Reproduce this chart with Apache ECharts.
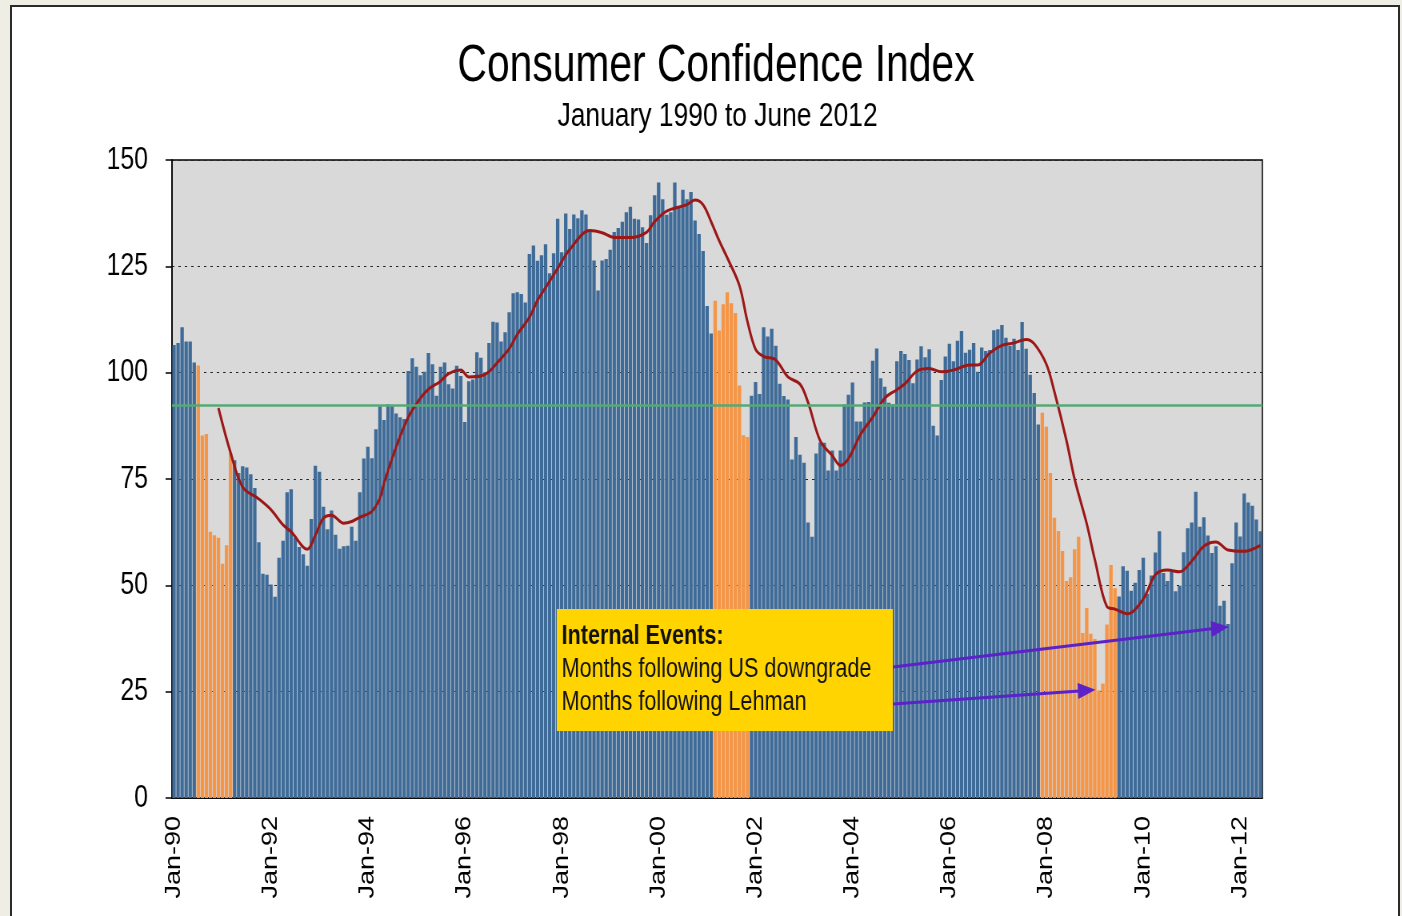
<!DOCTYPE html>
<html>
<head>
<meta charset="utf-8">
<title>Consumer Confidence Index</title>
<script src="https://cdn.jsdelivr.net/npm/echarts@6/dist/echarts.min.js"></script>
<style>
  html, body { margin: 0; padding: 0; width: 1402px; height: 916px; overflow: hidden; background: #efeee5; }
  #frame { position: absolute; left: 10px; top: 5px; width: 1390px; height: 920px; box-sizing: border-box;
           background: #fff; border-left: 2px solid #2b2b2b; border-top: 2px solid #2b2b2b; border-right: 2px solid #2b2b2b; }
  /* the source picture is squeezed horizontally, so the chart is drawn wider and scaled back */
  #chart { position: absolute; left: 0; top: 0; width: 1752px; height: 916px; transform: scaleX(0.8); transform-origin: 0 0; }
</style>
</head>
<body>
<div id="frame"></div>
<div id="chart"></div>
<script>
var monthNames = ['Jan','Feb','Mar','Apr','May','Jun','Jul','Aug','Sep','Oct','Nov','Dec'];
var startYear = 1990;

// monthly index values, one row per year
var cci1990s = [
  106.5, 107.0, 110.7, 107.3, 107.3, 102.4, 101.7, 85.2, 85.6, 62.6, 61.8, 61.2,
  55.1, 59.4, 81.1, 79.4, 76.4, 78.0, 77.7, 76.1, 72.9, 60.1, 52.7, 52.5,
  50.2, 47.3, 56.5, 60.5, 71.9, 72.6, 61.2, 59.0, 57.3, 54.6, 65.6, 78.1,
  76.7, 68.5, 63.2, 67.6, 61.9, 58.6, 59.2, 59.3, 63.8, 60.5, 71.9, 79.8,
  82.6, 79.9, 86.7, 92.1, 88.9, 92.5, 92.1, 90.4, 89.5, 89.1, 100.4, 103.4,
  101.4, 99.4, 100.2, 104.6, 102.0, 94.6, 101.4, 102.4, 97.3, 96.3, 101.6, 99.2,
  88.4, 98.0, 98.4, 104.8, 103.5, 100.1, 107.0, 112.0, 111.8, 107.3, 109.5, 114.2,
  118.7, 118.9, 118.5, 116.5, 127.9, 129.9, 126.3, 127.6, 130.2, 123.4, 128.1, 136.2,
  128.3, 137.4, 133.8, 137.2, 136.3, 138.2, 137.2, 133.1, 126.4, 119.3, 126.4, 126.7,
  128.9, 133.1, 134.0, 135.5, 137.7, 139.0, 136.2, 136.0, 134.2, 130.5, 137.0, 141.7
];
var cci2000s = [
  144.7, 140.8, 137.1, 137.7, 144.7, 139.2, 143.0, 140.8, 142.5, 135.8, 132.6, 128.6,
  115.7, 109.2, 116.9, 109.9, 116.1, 118.9, 116.3, 114.0, 97.0, 85.3, 84.9, 94.6,
  97.8, 95.0, 110.7, 108.5, 110.3, 106.3, 97.4, 94.5, 93.7, 79.6, 84.9, 80.7,
  78.8, 64.8, 61.4, 81.0, 83.6, 83.5, 77.0, 81.7, 77.0, 81.7, 92.5, 94.8,
  97.7, 88.5, 88.5, 93.0, 93.1, 102.8, 105.7, 98.7, 96.7, 92.9, 92.6, 102.7,
  105.1, 104.4, 103.0, 97.5, 103.1, 106.2, 103.6, 105.5, 87.5, 85.2, 98.3, 103.8,
  106.8, 102.7, 107.5, 109.8, 104.7, 105.4, 107.0, 100.2, 105.9, 105.1, 105.3, 110.0,
  110.2, 111.2, 108.2, 106.3, 108.0, 105.3, 111.9, 105.6, 99.5, 95.2, 87.8, 90.6,
  87.3, 76.4, 65.9, 62.8, 58.1, 51.0, 51.9, 58.5, 61.4, 38.8, 44.7, 38.6,
  37.4, 25.3, 26.9, 40.8, 54.8, 49.3, 47.4, 54.5, 53.4, 48.7, 50.6, 53.6
];
var cci2010s = [
  56.5, 48.0, 52.3, 57.7, 62.7, 52.9, 51.0, 53.2, 48.6, 49.9, 57.8, 63.4,
  64.8, 72.0, 63.8, 66.0, 61.7, 57.6, 59.2, 45.2, 46.4, 40.9, 55.2, 64.8,
  61.5, 71.6, 69.5, 68.7, 65.5, 62.7
];

// 12-month moving average
var maMonths = ['Dec-90','Mar-91','Jun-91','Oct-91','Jan-92','Apr-92','Jun-92','Oct-92','Dec-92','Feb-93',
  'Apr-93','Jul-93','Sep-93','Nov-93','Feb-94','Apr-94','May-94','Aug-94','Nov-94','Feb-95',
  'Apr-95','Jul-95','Sep-95','Dec-95','Feb-96','May-96','Jul-96','Sep-96','Dec-96','Feb-97',
  'May-97','Jul-97','Sep-97','Dec-97','Mar-98','Aug-98','Nov-98','Feb-99','Jun-99','Oct-99',
  'Dec-99','Mar-00','Aug-00','Oct-00','Dec-00','Feb-01','Apr-01','Jun-01','Sep-01','Nov-01',
  'Jan-02','Mar-02','Jun-02','Sep-02','Dec-02','Feb-03','May-03','Aug-03','Oct-03','Dec-03',
  'Mar-04','Jun-04','Sep-04','Dec-04','Feb-05','May-05','Aug-05','Nov-05','Feb-06','Jun-06',
  'Aug-06','Nov-06','Feb-07','May-07','Aug-07','Oct-07','Jan-08','Mar-08','Jun-08','Aug-08',
  'Nov-08','Jan-09','Apr-09','Jun-09','Sep-09','Jan-10','Apr-10','Jul-10','Oct-10','Jan-11',
  'Apr-11','Jul-11','Oct-11','Feb-12','Jun-12'];
var maValues = [91.7, 81.2, 73.1, 70.3, 67.8, 64.2, 62.6, 58.5, 61.8, 65.8,
  66.5, 64.6, 65.0, 66.0, 67.4, 70.5, 74.0, 82.5, 89.5, 94.0,
  96.1, 98.0, 99.8, 100.6, 99.0, 99.2, 100.2, 102.3, 105.6, 109.0,
  113.0, 117.0, 120.0, 124.5, 129.0, 133.4, 132.9, 131.8, 131.8, 133.0,
  135.5, 138.0, 139.5, 140.6, 139.5, 135.5, 131.0, 127.0, 120.5, 112.0,
  105.5, 103.8, 103.0, 99.0, 97.3, 93.0, 84.0, 80.5, 78.2, 79.8,
  85.5, 89.5, 94.0, 96.0, 97.4, 100.4, 101.0, 100.2, 100.6, 101.8,
  101.8, 104.6, 106.4, 107.0, 107.8, 106.8, 102.0, 95.5, 84.0, 75.0,
  64.5, 56.1, 45.0, 44.4, 43.3, 46.8, 52.5, 53.6, 53.2, 55.7,
  59.2, 60.2, 58.3, 58.0, 59.4];

// recessions (orange bars)
var recessionStart = ['Jul-90', 'Mar-01', 'Dec-07'];
var recessionEnd = ['Mar-91', 'Nov-01', 'Jun-09'];

var longRunAverage = 92.4;

var cciValues = cci1990s.concat(cci2000s, cci2010s);
var categories = [];
for (var i = 0; i < cciValues.length; i++) {
    var yy = (startYear + Math.floor(i / 12)) % 100;
    categories.push(monthNames[i % 12] + '-' + (yy < 10 ? '0' + yy : '' + yy));
}

function inRecession(idx) {
    for (var r = 0; r < recessionStart.length; r++) {
        if (idx >= categories.indexOf(recessionStart[r]) && idx <= categories.indexOf(recessionEnd[r])) return true;
    }
    return false;
}

var barData = cciValues.map(function (v, idx) {
    return { value: v, itemStyle: { color: inRecession(idx) ? '#f59545' : '#3f6b98' } };
});
var maData = maMonths.map(function (m, idx) { return [m, maValues[idx]]; });

var font = "'Liberation Sans', Arial, sans-serif";
var everyTwoYears = function (index) { return index % 24 === 0; };

var myChart = echarts.init(document.getElementById('chart'));
var option = {
    animation: false,
    title: [
        { text: 'Consumer Confidence Index', left: 890, top: 36, textAlign: 'center',
          textStyle: { fontFamily: font, fontSize: 51, fontWeight: 'normal', color: '#000' } },
        { text: 'January 1990 to June 2012', left: 892, top: 95, textAlign: 'center',
          textStyle: { fontFamily: font, fontSize: 33, fontWeight: 'normal', color: '#000' } }
    ],
    grid: {
        left: 215, right: 174, top: 160, bottom: 118,
        show: true, backgroundColor: '#d9d9d9', borderColor: '#000', borderWidth: 1.5
    },
    xAxis: {
        type: 'category',
        data: categories,
        boundaryGap: true,
        axisLine: { lineStyle: { color: '#000', width: 1.5 } },
        axisTick: { interval: everyTwoYears, length: 8, lineStyle: { color: '#000', width: 1.5 } },
        axisLabel: { interval: everyTwoYears, rotate: 90, margin: 18, color: '#000', fontFamily: font, fontSize: 27 },
        splitLine: { show: false }
    },
    yAxis: {
        type: 'value',
        min: 0, max: 150, interval: 25,
        axisLine: { show: true, lineStyle: { color: '#000', width: 1.5 } },
        axisTick: { show: true, length: 8, lineStyle: { color: '#000', width: 1.5 } },
        axisLabel: { margin: 30, color: '#000', fontFamily: font, fontSize: 31 },
        splitLine: { show: true, lineStyle: { color: '#222', width: 1, type: [3, 5] } }
    },
    series: [
        {
            name: 'Consumer Confidence',
            type: 'bar',
            data: barData,
            barCategoryGap: '15%',
            z: 2,
            markLine: {
                silent: true,
                symbol: ['none', 'triangle'],
                symbolSize: [16, 22],
                label: { show: false },
                lineStyle: { color: '#5a22c8', width: 3, type: 'solid' },
                data: [
                    [{ coord: ['Nov-04', 30.8] }, { coord: ['Aug-11', 40.0] }],
                    [{ coord: ['Nov-04', 22.1] }, { coord: ['Nov-08', 25.3] }]
                ]
            }
        },
        {
            name: '12-month average',
            type: 'line',
            data: maData,
            smooth: 0.35,
            showSymbol: false,
            z: 4,
            lineStyle: { color: '#9c1717', width: 3 },
            markLine: {
                silent: true,
                symbol: 'none',
                label: { show: false },
                lineStyle: { color: '#55a877', width: 2.5, type: 'solid' },
                data: [{ yAxis: longRunAverage }]
            }
        }
    ],
    graphic: [
        { type: 'rect', z: 100, shape: { x: 696, y: 609, width: 420, height: 122 }, style: { fill: '#ffd400' } },
        { type: 'text', z: 101, x: 702, y: 637,
          style: { text: 'Internal Events:', font: 'bold 27px ' + font, fill: '#111', verticalAlign: 'middle' } },
        { type: 'text', z: 101, x: 702, y: 670,
          style: { text: 'Months following US downgrade', font: '27px ' + font, fill: '#111', verticalAlign: 'middle' } },
        { type: 'text', z: 101, x: 702, y: 703,
          style: { text: 'Months following Lehman', font: '27px ' + font, fill: '#111', verticalAlign: 'middle' } }
    ]
};
myChart.setOption(option);
</script>
</body>
</html>
